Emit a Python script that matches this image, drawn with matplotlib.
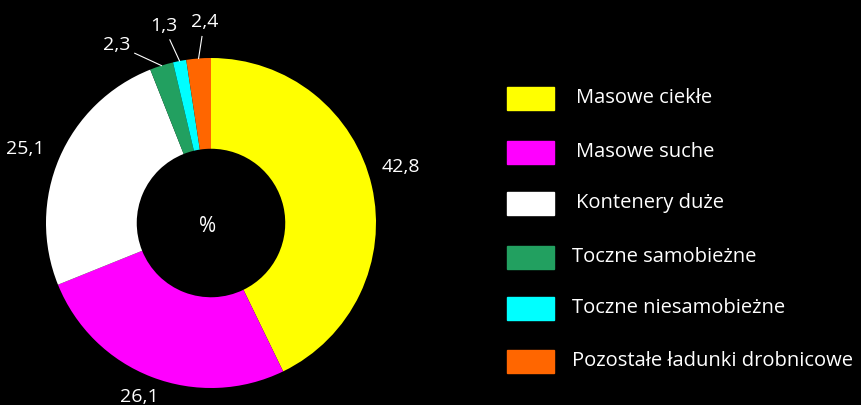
import numpy as np
import matplotlib
matplotlib.use("Agg")
import matplotlib.pyplot as plt
from matplotlib.patches import Rectangle

plt.rcParams['font.family'] = ['Open Sans', 'DejaVu Sans']

categories = ['Masowe ciekłe', 'Masowe suche', 'Kontenery duże',
              'Toczne samobieżne', 'Toczne niesamobieżne',
              'Pozostałe ładunki drobnicowe']
values = [42.8, 26.1, 25.1, 2.3, 1.3, 2.4]
value_labels = ['42,8', '26,1', '25,1', '2,3', '1,3', '2,4']
colors = ['#FFFF00', '#FF00FF', '#FFFFFF', '#22A060', '#00FFFF', '#FF6600']

fig = plt.figure(figsize=(8.61, 4.05), dpi=100, facecolor='black')

# donut
ax = fig.add_axes([46 / 861, 17 / 405, 330 / 861, 330 / 405])
ax.set_facecolor('black')
wedges, _ = ax.pie(values, colors=colors, startangle=90, counterclock=False,
                   radius=1, wedgeprops=dict(width=0.55, edgecolor='none'))
ax.set_xlim(-1, 1)
ax.set_ylim(-1, 1)
ax.set_aspect('equal')
ax.axis('off')

ax.text(-0.02, -0.02, '%', color='white', fontsize=15, ha='center', va='center')

# label positions: (radius, angle shift in degrees from wedge middle)
label_pos = [(1.2, 3.5), (1.14, -1.5), (1.21, 1.5), (1.22, 10.4), (1.23, 2.6), (1.22, -2.4)]
for i, (w, lab) in enumerate(zip(wedges, value_labels)):
    mid = np.deg2rad((w.theta1 + w.theta2) / 2)
    r, shift = label_pos[i]
    ang = mid + np.deg2rad(shift)
    tx, ty = r * np.cos(ang), r * np.sin(ang)
    if values[i] < 5:
        # leader line from the outer edge part way to the label
        ex, ey = np.cos(mid), np.sin(mid)
        lx, ly = ex + 0.6 * (tx - ex), ey + 0.6 * (ty - ey)
        ax.plot([ex, lx], [ey, ly], color='white', lw=0.8, clip_on=False)
    ax.text(tx, ty, lab, color='white', fontsize=14, ha='center', va='center',
            clip_on=False)

# legend
lx0 = 507 / 861
bw, bh = 47 / 861, 23 / 405
row_y = [98, 152, 203, 257, 308, 361]
text_x = [576, 576, 576, 572, 572, 572]
for cat, col, y, tx in zip(categories, colors, row_y, text_x):
    yc = 1 - y / 405
    fig.patches.append(Rectangle((lx0, yc - bh / 2), bw, bh, color=col,
                                 transform=fig.transFigure, figure=fig))
    fig.text(tx / 861, yc, cat, color='white', fontsize=14.5,
             ha='left', va='center')

fig.savefig('out.png', dpi=100, facecolor='black')
